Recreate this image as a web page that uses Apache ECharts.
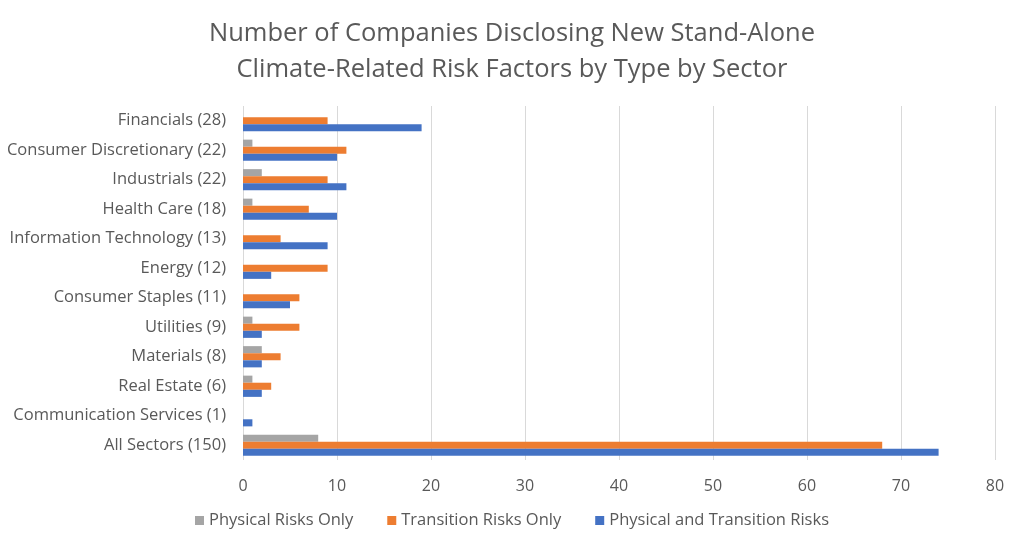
<!DOCTYPE html>
<html lang="en">
<head>
    <meta charset="UTF-8">
    <script src="https://cdn.jsdelivr.net/npm/echarts@6.0.0/dist/echarts.min.js"></script>
    <title>Climate Risk Factors by Sector</title>
    <style>
        html, body { margin: 0; padding: 0; background: #fff; }
    </style>
</head>
<body>
<div id="main" style="width: 1024px;height:546px;"></div>
<script type="text/javascript">
    var sectors = ['Financials (28)', 'Consumer Discretionary (22)', 'Industrials (22)', 'Health Care (18)',
        'Information Technology (13)', 'Energy (12)', 'Consumer Staples (11)', 'Utilities (9)',
        'Materials (8)', 'Real Estate (6)', 'Communication Services (1)', 'All Sectors (150)'];
    var physicalOnly = [0, 1, 2, 1, 0, 0, 0, 1, 2, 1, 0, 8];
    var transitionOnly = [9, 11, 9, 7, 4, 9, 6, 6, 4, 3, 0, 68];
    var physicalAndTransition = [19, 10, 11, 10, 9, 3, 5, 2, 2, 2, 1, 74];

    var chart = echarts.init(document.getElementById('main'));
    var textColor = '#595959';
    var font = '"Open Sans", sans-serif';

    var option = {
        animation: false,
        color: ['#A5A5A5', '#ED7D31', '#4472C4'],
        textStyle: { fontFamily: font },
        title: {
            text: 'Number of Companies Disclosing New Stand-Alone\nClimate-Related Risk Factors by Type by Sector',
            left: 'center',
            top: 11,
            textStyle: { color: textColor, fontSize: 25.5, fontWeight: 'normal', lineHeight: 36, fontFamily: font }
        },
        legend: {
            bottom: 12,
            left: 'center',
            itemWidth: 9,
            itemHeight: 9,
            itemGap: 34,
            icon: 'rect',
            textStyle: { color: textColor, fontSize: 16.5, fontFamily: font },
            data: ['Physical Risks Only', 'Transition Risks Only', 'Physical and Transition Risks']
        },
        grid: { left: 243, right: 29, top: 106, bottom: 86 },
        xAxis: {
            type: 'value',
            min: 0,
            max: 80,
            interval: 10,
            axisLine: { show: false },
            axisTick: { show: false },
            axisLabel: { color: textColor, fontSize: 16, margin: 18 },
            splitLine: { lineStyle: { color: '#D9D9D9', width: 1 } }
        },
        yAxis: {
            type: 'category',
            inverse: true,
            data: sectors,
            axisLine: { show: false },
            axisTick: { show: false },
            axisLabel: { color: textColor, fontSize: 16.5, margin: 17 }
        },
        series: [
            { name: 'Physical Risks Only', type: 'bar', data: physicalOnly, barGap: '0%', barCategoryGap: '28%' },
            { name: 'Transition Risks Only', type: 'bar', data: transitionOnly, barGap: '0%', barCategoryGap: '28%' },
            { name: 'Physical and Transition Risks', type: 'bar', data: physicalAndTransition, barGap: '0%', barCategoryGap: '28%' }
        ]
    };
    chart.setOption(option);
</script>
</body>
</html>
